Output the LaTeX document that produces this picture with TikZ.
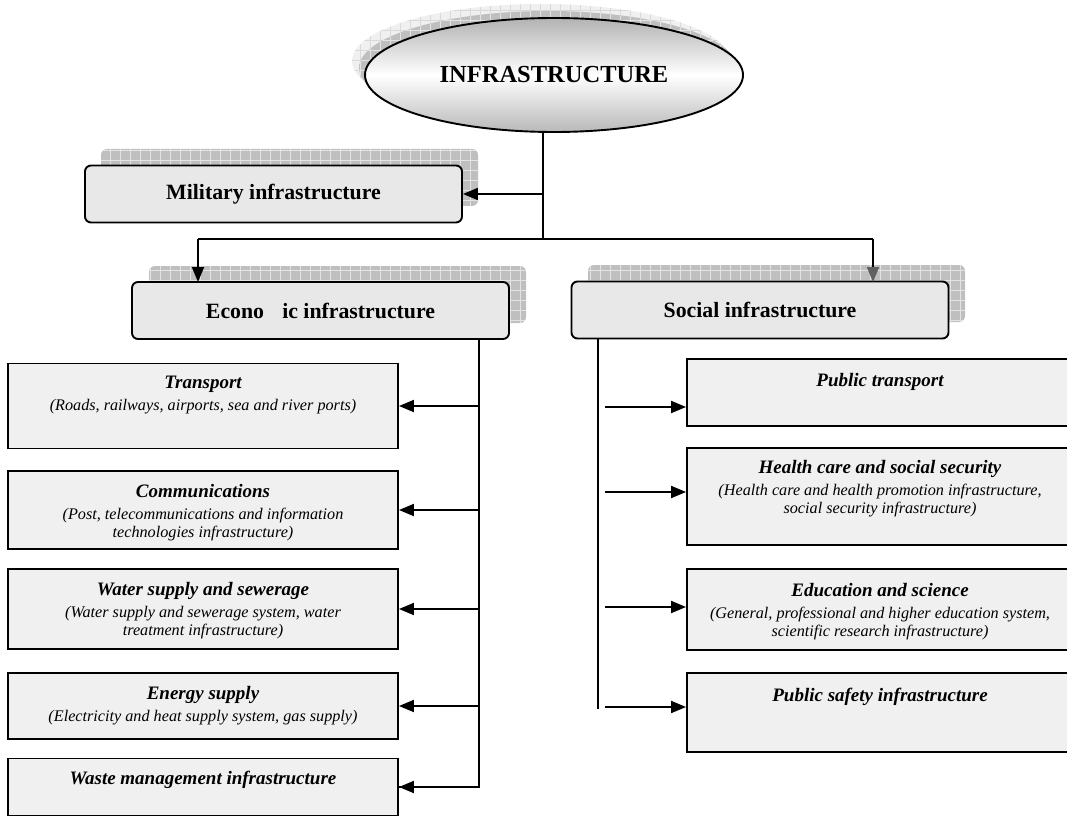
\documentclass[tikz,border=0pt]{standalone}
\usepackage{fontspec}
\setmainfont{Liberation Serif}
\usetikzlibrary{positioning,arrows.meta,shapes.geometric}
\newcommand{\itemtitle}[1]{{\bfseries\fontsize{19}{22}\selectfont #1}}

\begin{document}
\begin{tikzpicture}[x=1pt,y=-1pt,line width=1.9pt,
  hatch/.style={draw=none,fill=gray!50,path picture={\draw[gray!22,line width=0.6pt,step=10pt] (path picture bounding box.south west) grid (path picture bounding box.north east);}},
  headbox/.style={draw,rounded corners=6pt,fill=gray!18,minimum width=377pt,minimum height=57pt,inner sep=0pt,font=\bfseries\fontsize{21.8}{24}\selectfont},
  leftbox/.style={draw,fill=gray!12,minimum width=390pt,minimum height=#1,inner sep=0pt},
  rightbox/.style={draw,fill=gray!12,minimum width=386pt,minimum height=#1,inner sep=0pt},
  itemtext/.style={inner sep=0pt,align=center,font=\itshape\fontsize{16.2}{18}\selectfont},
  link/.style={-{Triangle[length=15pt,width=12pt]}}]
\useasboundingbox (0,0) rectangle (1067,818);

\path[hatch,fill=gray!12,path picture={\draw[gray!30,line width=0.6pt,step=10pt] (path picture bounding box.south west) grid (path picture bounding box.north east);}] (541,61) ellipse [x radius=189pt,y radius=57pt];
\path[hatch] (548,68) ellipse [x radius=189pt,y radius=57pt];
\path[hatch,rounded corners=6pt] (101,149) rectangle (478,206);
\path[hatch,rounded corners=6pt] (149,266) rectangle (526,323);
\path[hatch,rounded corners=6pt] (588,265) rectangle (965,322);

\coordinate (hub) at (543,239);
\coordinate (etop) at (479,339);
\coordinate (stop) at (598,338);
\draw (543,120) -- (hub);
\node[ellipse,draw,minimum width=378pt,minimum height=114pt,top color=gray!60,bottom color=gray!55,middle color=white,font=\bfseries\fontsize{24.5}{27}\selectfont] (infra) at (554,75) {INFRASTRUCTURE};

\node[headbox] (mil) at (273.5,194) {Military infrastructure};
\node[headbox] (econ) at (320.5,310.5) {Econo\phantom{m}ic infrastructure};
\node[headbox] (soc) at (760,310) {Social infrastructure};

\draw[link] (mil.east -| hub) -- (mil.east);
\draw (198,239) -- (873,239);
\draw[link] (198,239) -- (198,282);
\draw[-{Triangle[length=15pt,width=12pt,color=gray!75!black]}] (873,239) -- (873,282);

\node[leftbox=85pt] (transport) at (203,406) {};
\node[leftbox=78pt] (comm) at (203,510) {};
\node[leftbox=80pt] (water) at (203,609) {};
\node[leftbox=66pt] (energy) at (203,706) {};
\node[leftbox=57pt] (waste) at (203,787) {};
\node[itemtext,below=13pt of transport.north] {\itemtitle{Transport}\\[4pt](Roads, railways, airports, sea and river ports)};
\node[itemtext,below=13pt of comm.north] {\itemtitle{Communications}\\[4pt](Post, telecommunications and information\\technologies infrastructure)};
\node[itemtext,below=13pt of water.north] {\itemtitle{Water supply and sewerage}\\[4pt](Water supply and sewerage system, water\\treatment infrastructure)};
\node[itemtext,below=13pt of energy.north] {\itemtitle{Energy supply}\\[4pt](Electricity and heat supply system, gas supply)};
\node[itemtext,below=13pt of waste.north] {\itemtitle{Waste management infrastructure}};

\draw (econ.south -| etop) |- (waste.east);
\draw[link] (etop |- transport.east) -- (transport.east);
\draw[link] (etop |- comm.east) -- (comm.east);
\draw[link] (etop |- water.east) -- (water.east);
\draw[link] (etop |- energy.east) -- (energy.east);
\draw[link] (etop |- waste.east) -- (waste.east);

\node[rightbox=67pt] (pubtr) at (880,392.5) {};
\node[rightbox=97pt] (health) at (880,496.5) {};
\node[rightbox=81pt] (edu) at (880,609.5) {};
\node[rightbox=79pt] (safety) at (880,712.5) {};
\node[itemtext,below=14pt of pubtr.north] {\itemtitle{Public transport}};
\node[itemtext,below=12pt of health.north] {\itemtitle{Health care and social security}\\[4pt](Health care and health promotion infrastructure,\\social security infrastructure)};
\node[itemtext,below=14pt of edu.north] {\itemtitle{Education and science}\\[4pt](General, professional and higher education system,\\scientific research infrastructure)};
\node[itemtext,below=15pt of safety.north] {\itemtitle{Public safety infrastructure}};

\draw (stop) -- (598,709);
\coordinate (s1) at (605,407);
\coordinate (s2) at (605,492);
\coordinate (s3) at (605,607);
\coordinate (s4) at (605,707);
\draw[link] (s1) -- (s1 -| pubtr.west);
\draw[link] (s2) -- (s2 -| health.west);
\draw[link] (s3) -- (s3 -| edu.west);
\draw[link] (s4) -- (s4 -| safety.west);
\end{tikzpicture}
\end{document}
